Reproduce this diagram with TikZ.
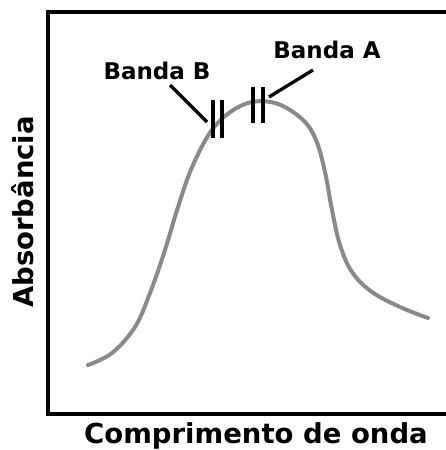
\documentclass[tikz,border=0pt]{standalone}
\usepackage{fontspec}
\setmainfont{DejaVu Sans}
\begin{document}
\begin{tikzpicture}[x=1pt,y=-1pt,
  axisline/.style={line width=4pt, black},
  curveline/.style={line width=4pt, color=curvegray, line cap=round},
  tick/.style={line width=3.3pt, black},
  leader/.style={line width=3.3pt, black},
  lbl/.style={font=\fontsize{23}{27}\selectfont\bfseries, inner sep=0pt, anchor=base},
  axlbl/.style={font=\fontsize{27.5}{33}\selectfont\bfseries, inner sep=0pt, anchor=base}]
\definecolor{curvegray}{HTML}{8A8A8A}
\useasboundingbox (0,0) rectangle (446,450);
\fill[white] (0,0) rectangle (446,450);
% axes frame
\draw[axisline] (448,12) -- (48,12) -- (48,414) -- (448,414);
% curve
\draw[curveline] plot[smooth, tension=0.6] coordinates {
 (88,365) (112,353) (135,327) (150,293) (165,250) (178,207) (193,165) (215,126)
 (245,104) (275,103) (302,119) (316,140) (325,172) (332,210) (340,245) (352,272)
 (372,292) (400,307) (428,318)};
% band markers
\coordinate (b1t) at (213,100); \coordinate (b1b) at (213,138);
\coordinate (b2t) at (222,100); \coordinate (b2b) at (222,138);
\coordinate (a1t) at (253,87);  \coordinate (a1b) at (253,123);
\coordinate (a2t) at (263,87);  \coordinate (a2b) at (263,123);
\draw[tick] (b1t) -- (b1b);
\draw[tick] (b2t) -- (b2b);
\draw[tick] (a1t) -- (a1b);
\draw[tick] (a2t) -- (a2b);
% labels
\node[lbl] (bandaB) at (157,79) {Banda B};
\node[lbl] (bandaA) at (327,58) {Banda A};
\coordinate (lbS) at (170,85); \coordinate (lbE) at (207,122);
\coordinate (laS) at (313,70); \coordinate (laE) at (269,97);
\draw[leader] (lbS) -- (lbE);
\draw[leader] (laS) -- (laE);
% axis labels
\node[axlbl] (xlab) at (256,443) {Comprimento de onda};
\node[axlbl, rotate=90] (ylab) at (33,212) {Absorbância};
\end{tikzpicture}
\end{document}
